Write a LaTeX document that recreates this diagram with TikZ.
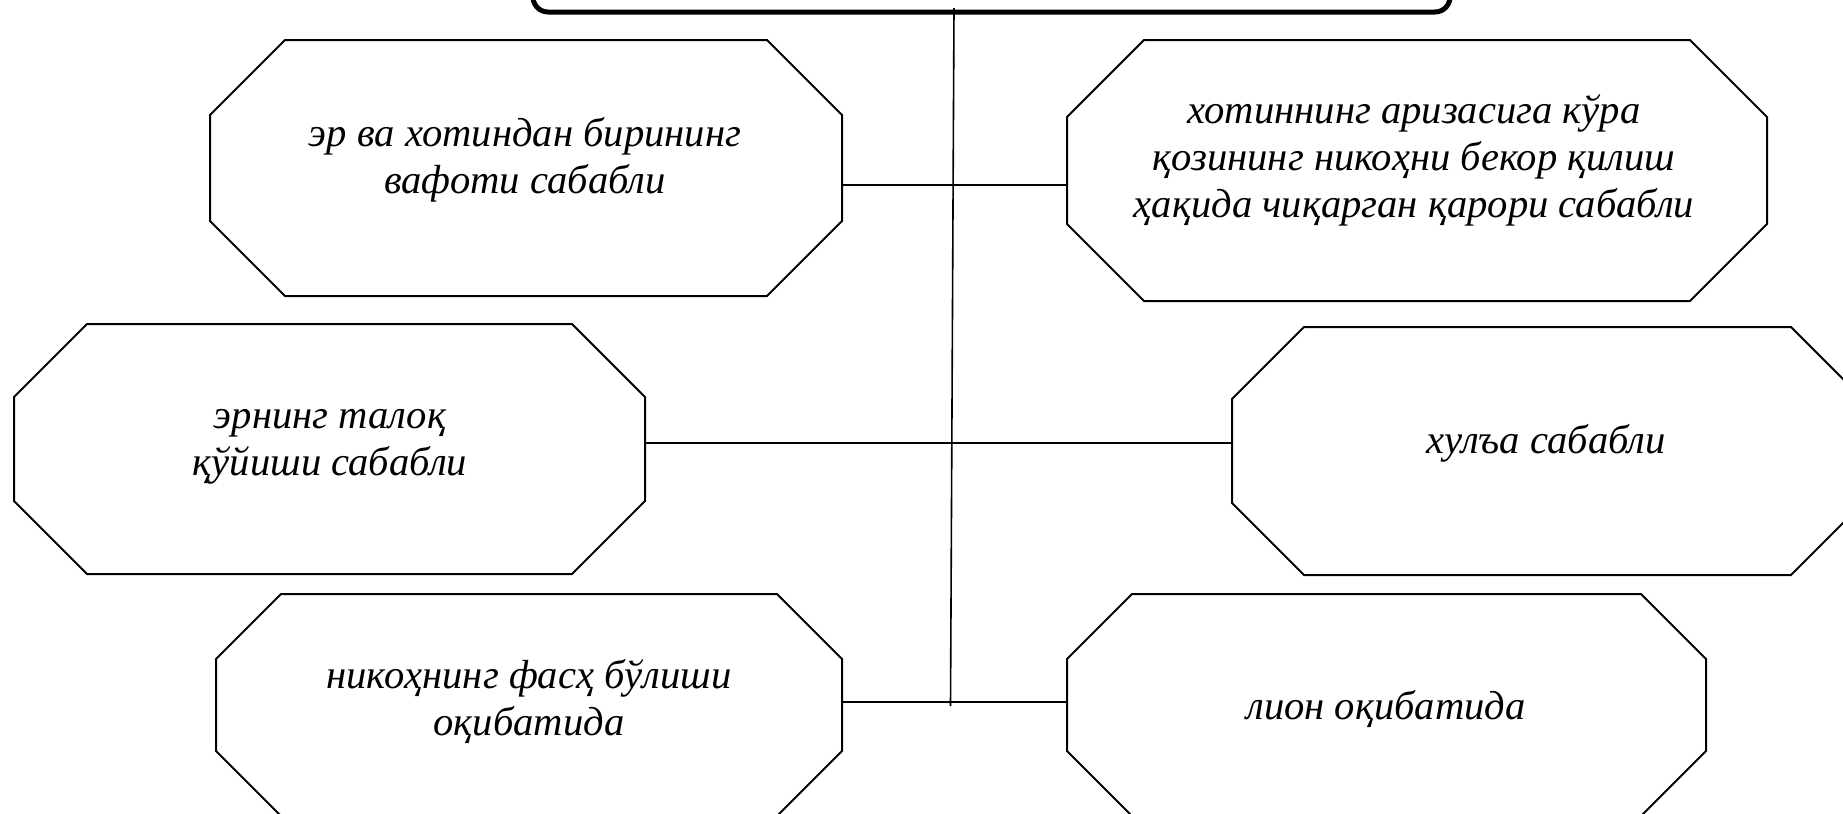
\documentclass[tikz,border=0pt]{standalone}
\usepackage{fontspec}
\setmainfont{Liberation Serif}
\usepackage{tikz}
\usetikzlibrary{calc}

\tikzset{
  octbox/.style 2 args={rectangle, inner sep=0pt, outer sep=0pt, minimum width=#1, minimum height=#2},
  octline/.style={line width=1pt},
  txt/.style={align=center, inner sep=0pt, font=\fontsize{20.3}{23.5}\selectfont\itshape},
  link/.style={line width=1pt},
}

% octagon round a node: name, chamfer
\newcommand{\octa}[2]{%
  \draw[octline] ($(#1.north west)+(#2,0)$) -- ($(#1.north east)+(-#2,0)$)
    -- ($(#1.north east)+(0,#2)$) -- ($(#1.south east)+(0,-#2)$)
    -- ($(#1.south east)+(-#2,0)$) -- ($(#1.south west)+(#2,0)$)
    -- ($(#1.south west)+(0,-#2)$) -- ($(#1.north west)+(0,#2)$) -- cycle;}

\begin{document}
\begin{tikzpicture}[x=0.5pt, y=-0.5pt]
  \useasboundingbox (0,0) rectangle (1843,814);
  \clip (0,0) rectangle (1843,814);

  % Head box
  \node[draw, line width=2.5pt, rounded corners=7.5pt, inner sep=0pt,
        minimum width=458.5pt, minimum height=26pt] (head) at (991.5,-14) {};

  % Boxes
  \node[octbox={316pt}{128pt}] (death) at (526,168) {};
  \node[octbox={350pt}{130.5pt}] (court) at (1417,170.5) {};
  \node[octbox={315.5pt}{125pt}] (talaq) at (329.5,449) {};
  \node[octbox={315.5pt}{124pt}] (khul) at (1547.5,451) {};
  \node[octbox={313pt}{111pt}] (faskh) at (529,705) {};
  \node[octbox={319.5pt}{111pt}] (lion) at (1386.5,705) {};

  \octa{death}{75}
  \octa{court}{77}
  \octa{talaq}{73}
  \octa{khul}{72}
  \octa{faskh}{65}
  \octa{lion}{65}

  % Texts
  \node[txt] (deathtxt) at (525,159.5) {эр ва хотиндан бирининг\\вафоти сабабли};
  \node[txt] (courttxt) at (1414,160) {хотиннинг аризасига кўра\\қозининг никоҳни бекор қилиш\\ҳақида чиқарган қарори сабабли};
  \node[txt] (talaqtxt) at (330,447) {эрнинг талоқ\\қўйиши сабабли};
  \node[txt] (khultxt) at (1546,443.5) {хулъа сабабли};
  \node[txt] (faskhtxt) at (529,701.5) {никоҳнинг фасҳ бўлиши\\оқибатида};
  \node[txt] (liontxt) at (1386,709.5) {лион оқибатида};

  % Spine
  \coordinate (spinetop) at (954,8);
  \coordinate (spinebot) at (950.5,706);
  \coordinate (j1) at (952.5,184.5);
  \coordinate (j2) at (951.5,443);
  \coordinate (j3) at (950.5,701.5);
  \draw[line width=0.8pt] (spinetop) -- (spinebot);

  % Branches
  \draw[link] (death.east |- j1) -- (court.west |- j1);
  \draw[link] (talaq.east |- j2) -- (khul.west |- j2);
  \draw[link] (faskh.east |- j3) -- (lion.west |- j3);
\end{tikzpicture}
\end{document}
